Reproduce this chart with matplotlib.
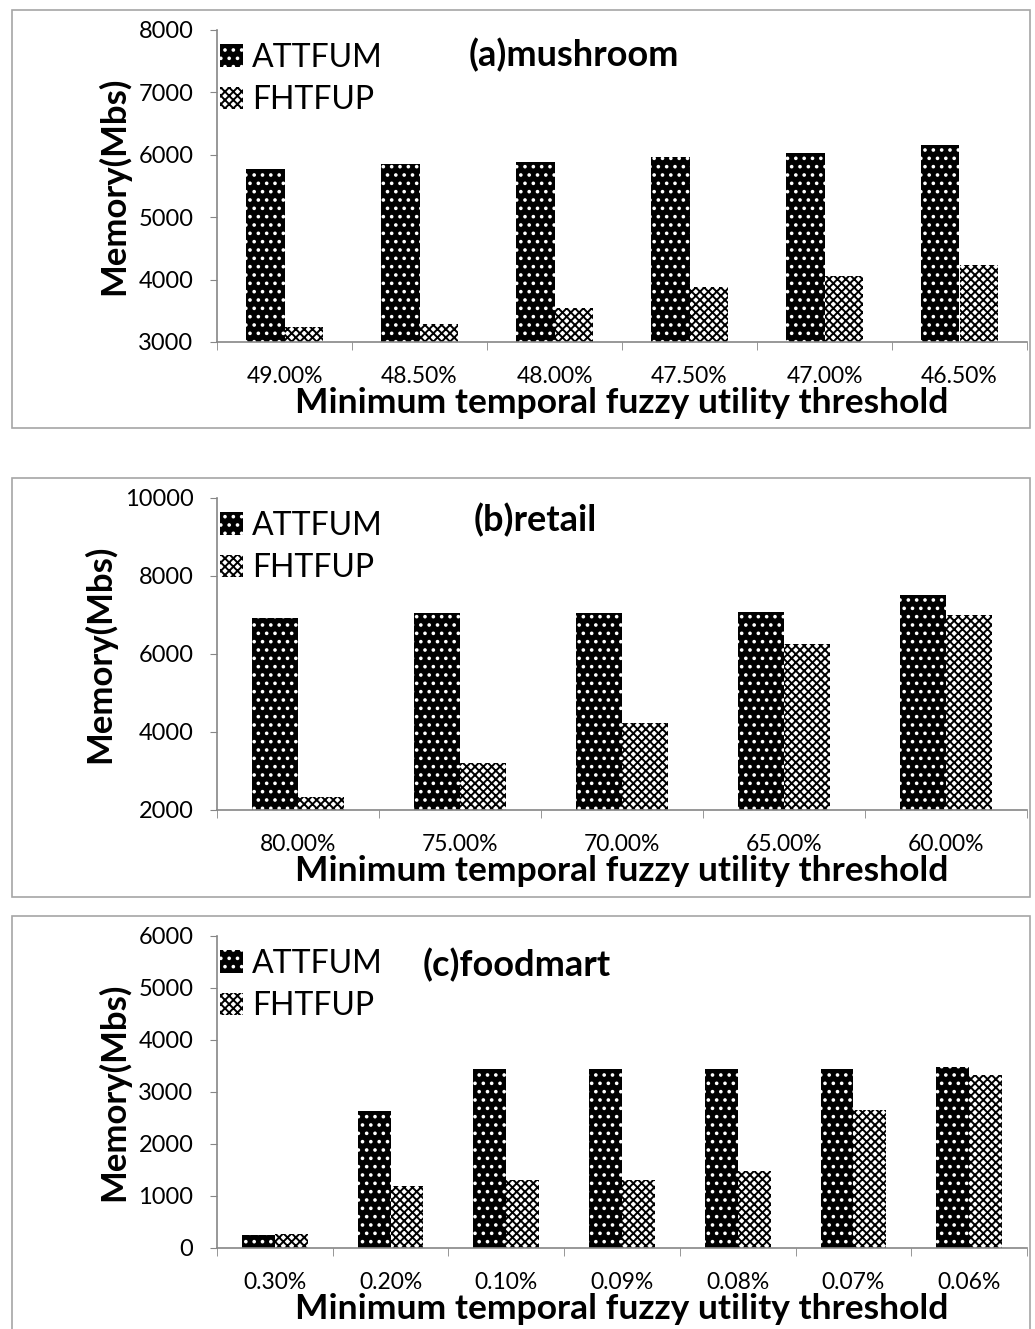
import matplotlib as mpl
import matplotlib.pyplot as plt
from matplotlib.patches import Patch, Rectangle

mpl.rcParams["font.family"] = ["Lato", "DejaVu Sans"]
mpl.rcParams["hatch.linewidth"] = 1.4

# Data
mushroom_labels = ["49.00%", "48.50%", "48.00%", "47.50%", "47.00%", "46.50%"]
mushroom_attfum = [5770, 5850, 5880, 5965, 6030, 6150]
mushroom_fhtfup = [3240, 3290, 3540, 3880, 4060, 4235]

retail_labels = ["80.00%", "75.00%", "70.00%", "65.00%", "60.00%"]
retail_attfum = [6915, 7045, 7045, 7065, 7515]
retail_fhtfup = [2325, 3200, 4240, 6250, 7005]

foodmart_labels = ["0.30%", "0.20%", "0.10%", "0.09%", "0.08%", "0.07%", "0.06%"]
foodmart_attfum = [245, 2635, 3440, 3440, 3450, 3450, 3480]
foodmart_fhtfup = [275, 1200, 1300, 1300, 1475, 2645, 3320]

W, H = 1035, 1329
fig = plt.figure(figsize=(W / 100, H / 100), dpi=100)

axis_grey = "#868686"
box_grey = "#a6a6a6"


def px_axes(top, bottom, left=217, right=1027):
    return [left / W, 1 - bottom / H, (right - left) / W, (bottom - top) / H]


panels = [
    dict(rect=px_axes(30, 342), labels=mushroom_labels, a=mushroom_attfum,
         f=mushroom_fhtfup, ylim=(3000, 8000), step=1000,
         title="(a)mushroom", title_x=574, title_y=55),
    dict(rect=px_axes(498, 810), labels=retail_labels, a=retail_attfum,
         f=retail_fhtfup, ylim=(2000, 10000), step=2000,
         title="(b)retail", title_x=535, title_y=520),
    dict(rect=px_axes(936, 1248), labels=foodmart_labels, a=foodmart_attfum,
         f=foodmart_fhtfup, ylim=(0, 6000), step=1000,
         title="(c)foodmart", title_x=517, title_y=965),
]

# panel frames
for top, bottom in [(10, 428), (478, 897), (916, 1360)]:
    fig.add_artist(Rectangle((12 / W, 1 - bottom / H), (1030 - 12) / W,
                             (bottom - top) / H, transform=fig.transFigure,
                             fill=False, edgecolor=box_grey, linewidth=1.2))

bw = 0.284
for p in panels:
    ax = fig.add_axes(p["rect"])
    n = len(p["labels"])
    x = list(range(n))
    ax.bar([i - bw / 2 for i in x], [v - p["ylim"][0] for v in p["a"]],
           bottom=p["ylim"][0], width=bw, facecolor="black",
           edgecolor="white", hatch="..", linewidth=0)
    ax.bar([i + bw / 2 for i in x], [v - p["ylim"][0] for v in p["f"]],
           bottom=p["ylim"][0], width=bw, facecolor="white",
           edgecolor="black", hatch="xxxx", linewidth=0)

    ax.set_xlim(-0.5, n - 0.5)
    ax.set_ylim(*p["ylim"])
    ax.set_yticks(range(p["ylim"][0], p["ylim"][1] + 1, p["step"]))
    ax.set_xticks(x)
    ax.set_xticklabels(p["labels"])
    ax.set_xticks([i - 0.5 for i in range(n + 1)], minor=True)

    ax.tick_params(axis="y", labelsize=17, length=5, color=axis_grey,
                   pad=12, direction="out")
    ax.tick_params(axis="x", which="major", length=0, labelsize=16.5, pad=17)
    ax.tick_params(axis="x", which="minor", length=6, color=axis_grey,
                   direction="out")

    for s in ["top", "right"]:
        ax.spines[s].set_visible(False)
    for s in ["left", "bottom"]:
        ax.spines[s].set_color(axis_grey)
        ax.spines[s].set_linewidth(1.2)

    ax.set_ylabel("Memory(Mbs)", fontsize=25, fontweight="bold", labelpad=6)
    ax.set_xlabel("Minimum temporal fuzzy utility threshold", fontsize=25.5,
                  fontweight="bold", labelpad=0)

    handles = [
        Patch(facecolor="black", edgecolor="white", hatch="..", linewidth=0,
              label="ATTFUM"),
        Patch(facecolor="white", edgecolor="black", hatch="xxxx", linewidth=0,
              label="FHTFUP"),
    ]
    ax.legend(handles=handles, loc="upper left", bbox_to_anchor=(0.0, 0.97),
              frameon=False, fontsize=23, handlelength=0.7, handleheight=0.7,
              handletextpad=0.3, labelspacing=0.4, borderaxespad=0,
              borderpad=0.1)

    fig.text(p["title_x"] / W, 1 - p["title_y"] / H, p["title"], fontsize=26,
             fontweight="bold", ha="center", va="center")

fig.savefig("out.png", dpi=100)
